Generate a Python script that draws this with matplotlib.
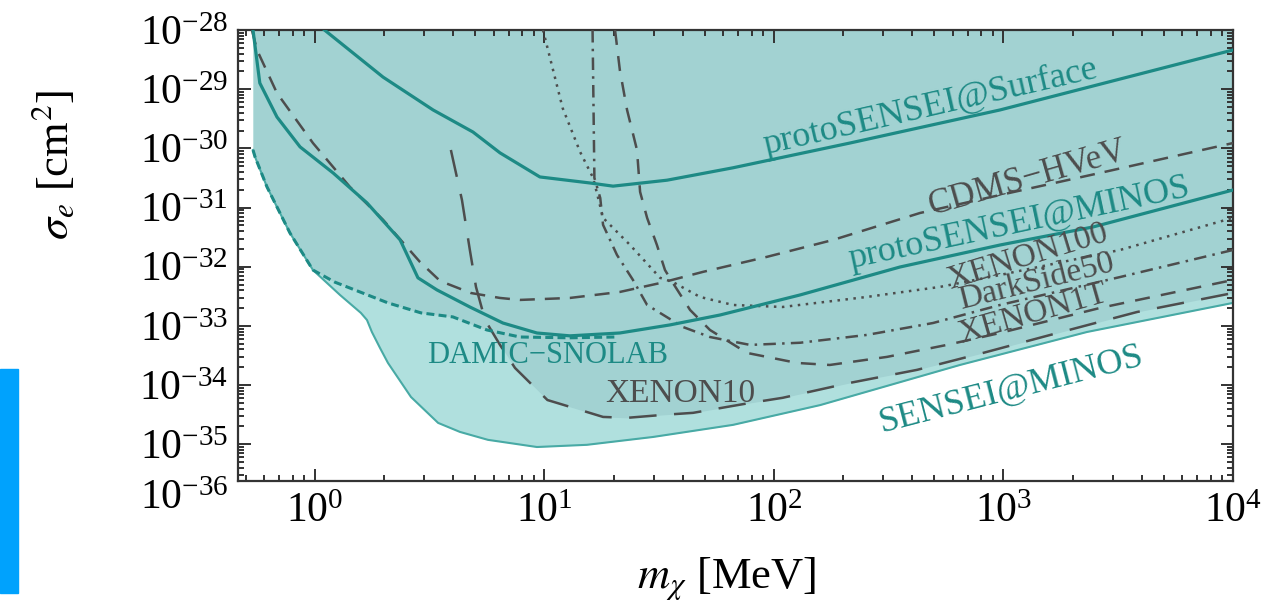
import numpy as np
import matplotlib.pyplot as plt
from matplotlib.patches import Rectangle
from matplotlib.ticker import LogLocator, NullFormatter

plt.rcParams['font.family'] = ['Liberation Serif', 'DejaVu Serif']
plt.rcParams['mathtext.fontset'] = 'stix'

# masses in MeV, cross sections in cm^2
m_surface = [1.1, 1.98, 3.27, 4.88, 6.4, 9.55, 15.8, 19.9, 34.2, 66.3, 214, 966, 1e4]
s_surface = [1e-28, 1.6e-29, 4.46e-30, 1.89e-30, 8.4e-31, 3.29e-31, 2.6e-31, 2.3e-31,
             2.9e-31, 4.7e-31, 1.23e-30, 4.46e-30, 4.6e-29]

m_proto_minos = [0.537, 0.575, 0.683, 0.861, 1.2, 1.685, 2.35, 2.81, 3.4, 4.73, 6.59, 9.27,
                 12.9, 21.3, 35.2, 58.2, 130, 354, 966, 2455, 1e4]
s_proto_minos = [1e-28, 1.27e-29, 3.39e-30, 1.06e-30, 3.84e-31, 1.2e-31, 2.84e-32, 6.5e-33,
                 4.06e-33, 2.09e-33, 1.12e-33, 7.6e-34, 6.8e-34, 7.6e-34, 1.04e-33, 1.53e-33,
                 3.34e-33, 9.9e-33, 2.33e-32, 4.7e-32, 1.98e-31]

m_cdms = [0.531, 0.559, 0.683, 0.98, 1.42, 1.98, 2.87, 3.51, 4.78, 6.4, 7.82, 12.9, 21.3,
          31.9, 49.1, 93.2, 181, 433, 966, 2630, 1e4]
s_cdms = [1e-28, 4.6e-29, 8.6e-30, 1.23e-30, 2.23e-31, 6.2e-32, 1.2e-32, 5.75e-33, 3.6e-33,
          2.97e-33, 2.75e-33, 2.97e-33, 3.75e-33, 5.3e-33, 8.2e-33, 1.47e-32, 2.84e-32,
          8.1e-32, 1.63e-31, 3.84e-31, 1.23e-30]

m_damic = [0.537, 0.548, 0.618, 0.778, 0.98, 1.22, 1.49, 2.08, 2.9, 3.99, 5.61, 7.82, 12.9, 20.3]
s_damic = [9.4e-31, 7.2e-31, 2.23e-31, 3.72e-32, 8.8e-33, 5.5e-33, 4.06e-33, 2.45e-33,
           1.66e-33, 1.42e-33, 8.55e-34, 6.5e-34, 6.3e-34, 6.5e-34]

m_xenon10 = [3.91, 4.37, 4.73, 5.03, 5.51, 6.4, 7.44, 10.3, 12.9, 18.0, 22.9, 32.8, 44.4,
             78.6, 109, 214, 420, 815, 1600, 3820, 1e4]
s_xenon10 = [9.4e-31, 1.34e-31, 1.92e-32, 4.56e-33, 1.26e-33, 4.78e-34, 1.95e-34, 5.6e-35,
             4.3e-35, 2.9e-35, 2.8e-35, 3.14e-35, 3.4e-35, 5.0e-35, 6.1e-35, 1.09e-34,
             1.81e-34, 3.5e-34, 7.05e-34, 1.72e-33, 3.6e-33]

m_xenon100 = [9.85, 12.0, 14.3, 16.3, 18.0, 23.6, 31.9, 36.3, 47.6, 66.3, 109, 254, 528,
              966, 3220, 1e4]
s_xenon100 = [1e-28, 4.8e-30, 8.7e-31, 3.16e-31, 6.7e-32, 2.33e-32, 6.5e-33, 5.5e-33,
              3.09e-33, 2.26e-33, 2.09e-33, 3.09e-33, 4.56e-33, 7.26e-33, 1.92e-32, 6.7e-32]

m_darkside = [16.2, 16.5, 17.5, 18.0, 20.7, 24.3, 28.0, 40.1, 52.6, 78.6, 130, 254, 493,
              966, 3220, 1e4]
s_darkside = [1e-28, 3.16e-31, 1.45e-31, 5.1e-32, 1.58e-32, 5.98e-33, 2.26e-33, 9.6e-34,
              6.5e-34, 4.78e-34, 5.2e-34, 7.05e-34, 1.12e-33, 2.26e-33, 6.7e-33, 1.92e-32]

m_xenon1t = [20.3, 21.3, 22.9, 25.3, 26.1, 28.0, 30.9, 33.5, 36.3, 43.1, 52.6, 76.3, 126,
             175, 311, 567, 966, 2630, 1e4]
s_xenon1t = [1e-28, 2.11e-29, 4.46e-30, 9.4e-31, 1.84e-31, 6.7e-32, 2.33e-32, 8.8e-33,
             5.3e-33, 1.86e-33, 8.55e-34, 3.5e-34, 2.37e-34, 2.19e-34, 3.0e-34, 4.78e-34,
             7.6e-34, 2.01e-33, 5.98e-33]

# SENSEI@MINOS excluded region, lower edge
m_sensei = [0.537, 0.548, 0.618, 0.778, 0.98, 1.285, 1.585, 1.685, 1.77, 1.92, 2.08, 2.62,
            3.44, 4.28, 5.67, 9.27, 15.3, 29.7, 66.3, 159, 646, 2310, 1e4]
s_sensei = [9.4e-31, 7.2e-31, 2.23e-31, 3.72e-32, 8.8e-33, 3.34e-33, 1.66e-33, 1.26e-33,
            7.9e-34, 4.25e-34, 2.37e-34, 6.3e-35, 2.3e-35, 1.62e-35, 1.19e-35, 9.0e-36,
            9.8e-36, 1.33e-35, 2.13e-35, 4.6e-35, 2.19e-34, 7.9e-34, 2.45e-33]

teal = '#1d8a85'
grey = '#4d4d4d'
top = 1e-28


def loginterp(grid, m, s):
    out = 10 ** np.interp(np.log10(grid), np.log10(m), np.log10(s))
    out[(grid < m[0]) | (grid > m[-1])] = np.nan
    return out


grid = np.logspace(np.log10(0.537), 4, 800)
prior = [(m_damic, s_damic), (m_xenon10, s_xenon10), (m_xenon100, s_xenon100),
         (m_darkside, s_darkside), (m_xenon1t, s_xenon1t), (m_cdms, s_cdms),
         (m_proto_minos, s_proto_minos)]
old_edge = np.full_like(grid, top)
for m, s in prior:
    old_edge = np.fmin(old_edge, loginterp(grid, m, s))
new_edge = loginterp(grid, m_sensei, s_sensei)

fig = plt.figure(figsize=(12.73, 6.03), dpi=100)
ax = fig.add_axes([238 / 1273, 1 - 481 / 603, 995 / 1273, 451 / 603])

ax.fill_between(grid, new_edge, top, color='#b0e0de', lw=0, zorder=1)
ax.fill_between(grid, old_edge, top, color='#a2d2d2', lw=0, zorder=1)
ax.plot(m_sensei, s_sensei, color='#48aaa5', lw=1.5, zorder=2)

ax.plot(m_cdms, s_cdms, color=grey, lw=1.8, ls=(0, (6, 4)), zorder=3)
ax.plot(m_xenon10, s_xenon10, color=grey, lw=1.8, ls=(0, (11, 7)), zorder=3)
ax.plot(m_xenon1t, s_xenon1t, color=grey, lw=1.8, ls=(0, (6, 4.5)), zorder=3)
ax.plot(m_darkside, s_darkside, color=grey, lw=1.8, ls=(0, (5, 2.5, 1, 2.5)), zorder=3)
ax.plot(m_xenon100, s_xenon100, color=grey, lw=1.8, ls=(0, (1, 2.2)), zorder=3)

ax.plot(m_damic, s_damic, color=teal, lw=2.2, ls=(0, (2.6, 1.4)), zorder=4)
ax.plot(m_proto_minos, s_proto_minos, color=teal, lw=2.3, zorder=4)
ax.plot(m_surface, s_surface, color=teal, lw=2.3, zorder=4)

lab = dict(rotation_mode='anchor', ha='center', va='baseline', zorder=5)
ax.text(488, 3.52e-30, 'protoSENSEI@Surface', color=teal, fontsize=26, rotation=13, **lab)
ax.text(1190, 3.87e-32, 'protoSENSEI@MINOS', color=teal, fontsize=26, rotation=12, **lab)
ax.text(1304, 2.23e-31, 'CDMS\u2212HVeV', color=grey, fontsize=25, rotation=16, **lab)
ax.text(1304, 1.07e-32, 'XENON100', color=grey, fontsize=24, rotation=17, **lab)
ax.text(1413, 4.06e-33, 'DarkSide50', color=grey, fontsize=24, rotation=14, **lab)
ax.text(1372, 1.17e-33, 'XENON1T', color=grey, fontsize=24, rotation=16, **lab)
ax.text(10.3, 2.37e-34, 'DAMIC\u2212SNOLAB', color=teal, fontsize=22, **lab)
ax.text(38.9, 5.2e-35, 'XENON10', color=grey, fontsize=24, **lab)
ax.text(1100, 6.1e-35, 'SENSEI@MINOS', color=teal, fontsize=26, rotation=14.5, **lab)

ax.set_xscale('log')
ax.set_yscale('log')
ax.set_xlim(0.462, 1e4)
ax.set_ylim(10 ** -35.62, 1e-28)
ax.xaxis.set_major_locator(LogLocator(base=10, numticks=20))
ax.yaxis.set_major_locator(LogLocator(base=10, numticks=20))
for axis in (ax.xaxis, ax.yaxis):
    axis.set_minor_locator(LogLocator(base=10, subs=np.arange(2, 10), numticks=20))
    axis.set_minor_formatter(NullFormatter())
ax.tick_params(which='both', direction='in', top=True, right=True, width=1.4, color='#333333')
ax.tick_params(which='major', length=9, labelsize=30)
ax.tick_params(which='minor', length=4.5)
ax.tick_params(axis='x', which='major', pad=8)
ax.tick_params(axis='y', which='major', pad=7)
for sp in ax.spines.values():
    sp.set_linewidth(1.6)
    sp.set_color('#333333')

# the lowest decade label sits just below the frame in the original
ax.annotate(r'$\mathdefault{10^{-36}}$', xy=(0, 0), xycoords='axes fraction',
            xytext=(-7, -13), textcoords='offset points', ha='right', va='center',
            fontsize=30)

ax.set_xlabel(r'$m_\chi$ [MeV]', fontsize=32)
ax.xaxis.set_label_coords(0.491, -0.165)
ax.set_ylabel(r'$\sigma_e$ [cm$^2$]', fontsize=32)
ax.yaxis.set_label_coords(-0.162, 0.70)

fig.patches.append(Rectangle((0, 10 / 603), 18 / 1273, 224 / 603, transform=fig.transFigure,
                             color='#00a2fd', zorder=0))

fig.savefig('out.png', dpi=100)
